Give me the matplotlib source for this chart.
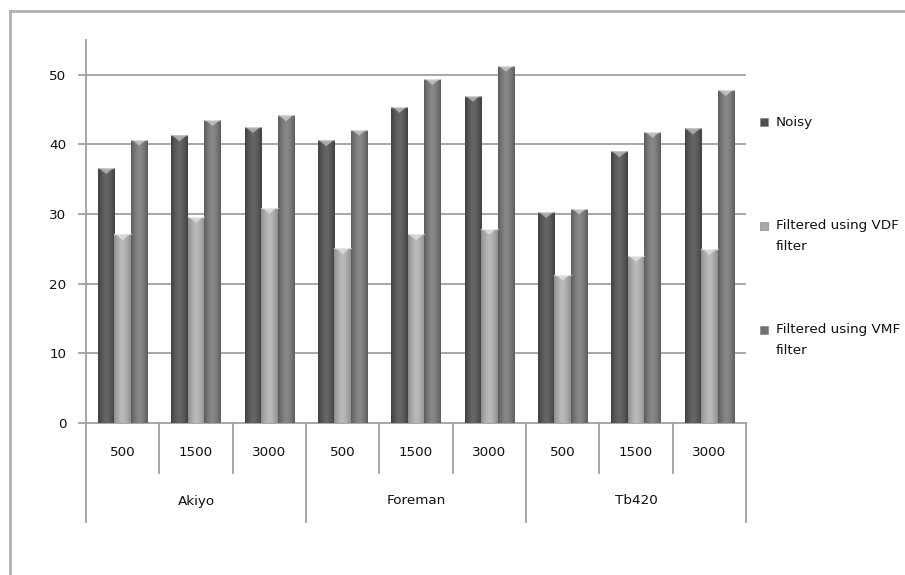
import numpy as np
import matplotlib
matplotlib.use("Agg")
import matplotlib.pyplot as plt
from matplotlib.patches import Polygon, Rectangle
from matplotlib.colors import LinearSegmentedColormap
from matplotlib.transforms import blended_transform_factory

# ---- data ----
videos = ["Akiyo", "Foreman", "Tb420"]
frames = ["500", "1500", "3000"]
series = ["Noisy", "Filtered using VDF\nfilter", "Filtered using VMF\nfilter"]
noisy = [36.6, 41.3, 42.5, 40.6, 45.4, 47.0, 30.3, 39.0, 42.3]
vdf = [27.1, 29.6, 30.9, 25.1, 27.1, 27.9, 21.3, 24.0, 25.0]
vmf = [40.7, 43.5, 44.2, 42.1, 49.4, 51.3, 30.8, 41.8, 47.8]
yticks = [0, 10, 20, 30, 40, 50]

# edge / centre shades for the cylinder-like bar fill
shades = [("#404040", "#666666"), ("#8e8e8e", "#bababa"), ("#5c5c5c", "#888888")]
legend_colors = ["#505050", "#a8a8a8", "#727272"]

W, H, DPI = 905, 575, 100
fig = plt.figure(figsize=(W / DPI, H / DPI), dpi=DPI)
fig.patch.set_facecolor("white")
plt.rcParams["font.family"] = ["DejaVu Sans"]
FS = 9.7
txt_color = "#111111"
line_col = "#a0a0a0"

def fx(px):
    return px / W

def fy(py):
    return 1 - py / H

# outer frame (top and left edges)
fig.add_artist(plt.Line2D([fx(10), 1.0], [fy(11), fy(11)], color="#b0b0b0", lw=2))
fig.add_artist(plt.Line2D([fx(10), fx(10)], [fy(11), 0.0], color="#b0b0b0", lw=2))

ax = fig.add_axes([fx(86), fy(423), fx(746) - fx(86), fy(40) - fy(423)])
ax.set_xlim(-0.5, 8.5)
ax.set_ylim(0, 55)
for s in ["top", "right", "bottom"]:
    ax.spines[s].set_visible(False)
ax.spines["left"].set_color(line_col)
ax.spines["left"].set_linewidth(1.3)
ax.set_yticks(yticks)
ax.set_yticklabels([str(t) for t in yticks], fontsize=FS, color=txt_color)
ax.tick_params(axis="y", length=6, width=1.3, color=line_col, pad=8)
ax.set_xticks([])
for t in yticks[1:]:
    ax.axhline(t, color=line_col, lw=1.3, zorder=0)
ax.axhline(0, color=line_col, lw=1.3, zorder=1, clip_on=False)

n_cat = len(noisy)
x = np.arange(n_cat)
bw = 0.225
grad = 1 - np.abs(np.linspace(-1, 1, 64))[None, :] ** 1.5
cap_h = 0.85

for k, vals in enumerate([noisy, vdf, vmf]):
    cmap = LinearSegmentedColormap.from_list(f"s{k}", list(shades[k]))
    bars = ax.bar(x + (k - 1) * bw, vals, width=bw, color=shades[k][1],
                  edgecolor="none", zorder=3)
    for b, v in zip(bars, vals):
        x0 = b.get_x()
        x1 = x0 + b.get_width()
        im = ax.imshow(grad, cmap=cmap, extent=[x0, x1, 0, v], aspect="auto",
                       zorder=3.5, vmin=0, vmax=1, interpolation="bilinear")
        im.set_clip_path(b)
        # bevelled highlight on the bar top
        xm = (x0 + x1) / 2
        ax.add_patch(Polygon([[x0 + 0.01, v], [x1 - 0.01, v], [xm, v - cap_h]],
                             closed=True, facecolor="white", alpha=0.45,
                             edgecolor="none", zorder=4))
        ax.plot([x0, x1], [v, v], color="white", alpha=0.5, lw=1, zorder=4.5)

ax.set_xlim(-0.5, 8.5)
ax.set_ylim(0, 55)

# two-level category axis
tr = blended_transform_factory(ax.transData, fig.transFigure)
for i in range(n_cat):
    ax.text(i, fy(452), frames[i % 3], transform=tr, ha="center", va="center",
            fontsize=FS, color=txt_color)
for i in range(n_cat + 1):
    bottom = fy(522) if i % 3 == 0 else fy(473)
    fig.add_artist(plt.Line2D([i - 0.5, i - 0.5], [fy(423), bottom],
                              transform=tr, color=line_col, lw=1.3))
for g, name in enumerate(videos):
    ax.text(3 * g + 1, fy(501), name, transform=tr, ha="center", va="center",
            fontsize=FS, color=txt_color)

# legend
legend_y = [122, 226, 330]
for k, (lab, yy) in enumerate(zip(series, legend_y)):
    fig.add_artist(Rectangle((fx(760), fy(yy + 4)), fx(8), 8 / H,
                             facecolor=legend_colors[k], edgecolor="#888888", lw=0.5))
    for j, ln in enumerate(lab.split("\n")):
        fig.text(fx(776), fy(yy + 20 * j), ln, ha="left", va="center",
                 fontsize=FS, color=txt_color)

fig.savefig("out.png", dpi=DPI, facecolor="white")
